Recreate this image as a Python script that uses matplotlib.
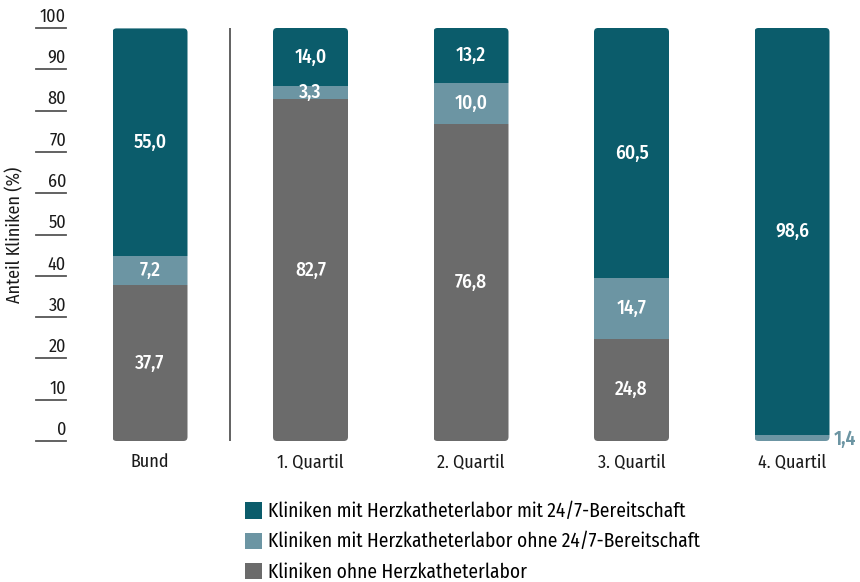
import matplotlib
matplotlib.use("Agg")
import matplotlib.pyplot as plt
from matplotlib.patches import FancyBboxPatch, Patch
import numpy as np

categories = ["Bund", "1. Quartil", "2. Quartil", "3. Quartil", "4. Quartil"]
ohne_labor = [37.7, 82.7, 76.8, 24.8, 0.0]
labor_ohne_247 = [7.2, 3.3, 10.0, 14.7, 1.4]
labor_mit_247 = [55.0, 14.0, 13.2, 60.5, 98.6]
series_names = [
    "Kliniken mit Herzkatheterlabor mit 24/7-Bereitschaft",
    "Kliniken mit Herzkatheterlabor ohne 24/7-Bereitschaft",
    "Kliniken ohne Herzkatheterlabor",
]
yticks = [0, 10, 20, 30, 40, 50, 60, 70, 80, 90, 100]

C_DARK = "#0b5c6b"
C_LIGHT = "#6c95a3"
C_GRAY = "#6b6b6b"
C_TEXT = "#1a1a1a"

FONT = ["Fira Sans Condensed", "Roboto Condensed", "DejaVu Sans"]
plt.rcParams["font.family"] = FONT

W, H = 860, 582
fig = plt.figure(figsize=(W / 100, H / 100), dpi=100)
y0px, y100px = 441, 28
ax = fig.add_axes([0, (H - y0px) / H, 1, (y0px - y100px) / H])
x0c, step = 150, 160.5
ax.set_xlim(-x0c / step, (W - x0c) / step)
ax.set_ylim(0, 100)
ax.axis("off")

x = np.arange(len(categories))
bw = 75 / step
bottoms = np.zeros(len(categories))
stack = [(ohne_labor, C_GRAY), (labor_ohne_247, C_LIGHT), (labor_mit_247, C_DARK)]
bar_groups = []
for vals, col in stack:
    bars = ax.bar(x, vals, bw, bottom=bottoms, color=col, linewidth=0)
    bar_groups.append((bars, vals, bottoms.copy()))
    bottoms = bottoms + np.array(vals)

# rounded clip for each full stack
px_per_x = step
px_per_y = (y0px - y100px) / 100
r = 4 / px_per_x
aspect = px_per_x / px_per_y
for i, xi in enumerate(x):
    clip = FancyBboxPatch((xi - bw / 2, 0), bw, bottoms[i],
                          boxstyle=f"round,pad=0,rounding_size={r}",
                          mutation_aspect=aspect, transform=ax.transData,
                          facecolor="none", edgecolor="none")
    ax.add_patch(clip)
    for bars, _, _ in bar_groups:
        bars[i].set_clip_path(clip)

# value labels
for bars, vals, bots in bar_groups:
    for i, v in enumerate(vals):
        if v <= 0:
            continue
        if v < 2:
            ax.text(x[i] + bw / 2 + 4 / step, bots[i] + v / 2 - 0.3, f"{v:.1f}".replace(".", ","),
                    color=C_LIGHT, fontsize=14, fontweight=600,
                    ha="left", va="center")
        else:
            ax.text(x[i], bots[i] + v / 2, f"{v:.1f}".replace(".", ","),
                    color="white", fontsize=14, fontweight=500,
                    ha="center", va="center")

# separator
ax.plot([0.5, 0.5], [0, 100], color="#555555", lw=1.3)

# y ticks: short lines with labels above
for t in yticks:
    ax.plot([(36 - x0c) / step, (66 - x0c) / step], [t, t], color="#555555", lw=1.3,
            clip_on=False)
    ax.text((66 - x0c) / step, t + 0.6, str(t), ha="right", va="bottom",
            fontsize=13, color=C_TEXT)

# category labels
for i, c in enumerate(categories):
    ax.text(x[i], -3.0, c, ha="center", va="top", fontsize=13, color=C_TEXT)

fig.text(15 / W, 1 - 235 / H, "Anteil Kliniken (%)", rotation=90, ha="center",
         va="center", fontsize=13, color=C_TEXT)

handles = [Patch(facecolor=C_DARK, edgecolor="none"),
           Patch(facecolor=C_LIGHT, edgecolor="none"),
           Patch(facecolor=C_GRAY, edgecolor="none")]
fig.legend(handles, series_names, loc="upper left",
           bbox_to_anchor=(235 / W, 1 - 492 / H), frameon=False,
           fontsize=13.95, handlelength=0.9, handleheight=0.9,
           handletextpad=0.28, labelspacing=0.55, borderpad=0)

fig.savefig("out.png", dpi=100)
